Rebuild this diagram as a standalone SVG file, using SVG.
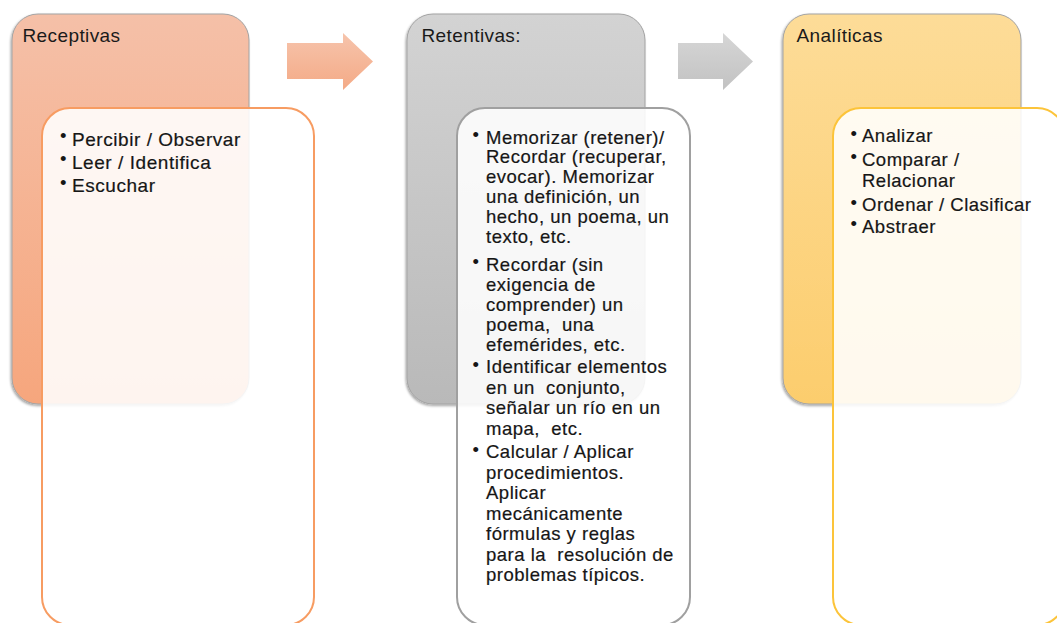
<svg xmlns="http://www.w3.org/2000/svg" width="1057" height="623" viewBox="0 0 1057 623">
<defs>
<linearGradient id="gOrange" x1="0" y1="0" x2="0" y2="1"><stop offset="0" stop-color="#f5c0a8"/><stop offset="1" stop-color="#f6a67d"/></linearGradient>
<linearGradient id="gGray" x1="0" y1="0" x2="0" y2="1"><stop offset="0" stop-color="#d3d3d3"/><stop offset="1" stop-color="#b9b9b9"/></linearGradient>
<linearGradient id="gYellow" x1="0" y1="0" x2="0" y2="1"><stop offset="0" stop-color="#fddc98"/><stop offset="1" stop-color="#fccd6d"/></linearGradient>
<linearGradient id="gArrowO" x1="0" y1="0" x2="0" y2="1"><stop offset="0" stop-color="#f6c4ac"/><stop offset="1" stop-color="#f4aa86"/></linearGradient>
<linearGradient id="gArrowG" x1="0" y1="0" x2="0" y2="1"><stop offset="0" stop-color="#d6d6d6"/><stop offset="1" stop-color="#c2c2c2"/></linearGradient>
<filter id="shadow" x="-10%" y="-10%" width="120%" height="120%"><feDropShadow dx="-1" dy="1.5" stdDeviation="1.2" flood-color="#000" flood-opacity="0.35"/></filter>
</defs>
<style>
.outer { stroke: #a3a3a3; stroke-width: 1; filter: url(#shadow); }
.inner { fill: #ffffff; fill-opacity: 0.88; stroke-width: 2; }
.title { font-family: "Liberation Sans", Arial, sans-serif; font-size: 19px; letter-spacing: 0.4px; fill: #1a1a1a; }
.item { font-family: "Liberation Sans", Arial, sans-serif; font-size: 18.5px; letter-spacing: 0.5px; fill: #161616; stroke: #161616; stroke-width: 0.2px; }
.item1 { font-size: 19px; letter-spacing: 0.55px; }
.bul { font-family: "Liberation Sans", Arial, sans-serif; font-size: 18.5px; fill: #161616; }
.pre { white-space: pre; }
</style>
<rect width="1057" height="623" fill="#ffffff"/>

<g id="connectors">
<polygon points="287,43 343,43 343,33 373,61.5 343,90 343,79 287,79" fill="url(#gArrowO)"/>
<polygon points="678,43 723,43 723,33 753,61.5 723,90 723,79 678,79" fill="url(#gArrowG)"/>
</g>

<g id="node-receptivas">
<rect class="outer" x="12" y="14" width="237" height="390" rx="26" fill="url(#gOrange)"/>
<text class="title" x="22.5" y="41.5">Receptivas</text>
<rect class="inner" x="42" y="108" width="272" height="517" rx="28" stroke="#f79c62"/>
<text class="bul" x="60" y="142">•</text>
<text class="bul" x="60" y="165">•</text>
<text class="bul" x="60" y="188.5">•</text>
<text class="item item1" x="72" y="145.5">Percibir / Observar</text>
<text class="item item1" x="72" y="168.5">Leer / Identifica</text>
<text class="item item1" x="72" y="192">Escuchar</text>
</g>

<g id="node-retentivas">
<rect class="outer" x="407" y="14" width="238" height="390" rx="26" fill="url(#gGray)"/>
<text class="title" x="421.5" y="41.5">Retentivas:</text>
<rect class="inner" x="457" y="108" width="233" height="517" rx="28" stroke="#a0a0a0"/>
<text class="bul" x="472.5" y="141">•</text>
<text class="bul" x="472.5" y="268">•</text>
<text class="bul" x="472.5" y="370.5">•</text>
<text class="bul" x="472.5" y="455.5">•</text>
<text class="item" x="486" y="143.5">Memorizar (retener)/</text>
<text class="item" x="486" y="163.3">Recordar (recuperar,</text>
<text class="item" x="486" y="183.1">evocar). Memorizar</text>
<text class="item" x="486" y="202.9">una definición, un</text>
<text class="item" x="486" y="222.7">hecho, un poema, un</text>
<text class="item" x="486" y="242.5">texto, etc.</text>
<text class="item" x="486" y="270.5">Recordar (sin</text>
<text class="item" x="486" y="290.5">exigencia de</text>
<text class="item" x="486" y="310.8">comprender) un</text>
<text class="item pre" x="486" y="331">poema,  una</text>
<text class="item" x="486" y="351.2">efemérides, etc.</text>
<text class="item" x="486" y="373.2">Identificar elementos</text>
<text class="item pre" x="486" y="393.6">en un  conjunto,</text>
<text class="item" x="486" y="414">señalar un río en un</text>
<text class="item pre" x="486" y="434.5">mapa,  etc.</text>
<text class="item" x="486" y="458">Calcular / Aplicar</text>
<text class="item" x="486" y="478.5">procedimientos.</text>
<text class="item" x="486" y="499">Aplicar</text>
<text class="item" x="486" y="519.5">mecánicamente</text>
<text class="item" x="486" y="540">fórmulas y reglas</text>
<text class="item pre" x="486" y="560.5">para la  resolución de</text>
<text class="item" x="486" y="581">problemas típicos.</text>
</g>

<g id="node-analiticas">
<rect class="outer" x="783" y="14" width="238" height="390" rx="26" fill="url(#gYellow)"/>
<text class="title" x="796.5" y="41.5">Analíticas</text>
<rect class="inner" x="833" y="108" width="232" height="517" rx="28" stroke="#fcc43a"/>
<text class="bul" x="850.5" y="139.5">•</text>
<text class="bul" x="850.5" y="163">•</text>
<text class="bul" x="850.5" y="208.5">•</text>
<text class="bul" x="850.5" y="230">•</text>
<text class="item" x="862" y="142">Analizar</text>
<text class="item" x="862" y="165.5">Comparar /</text>
<text class="item" x="862" y="186.5">Relacionar</text>
<text class="item" x="862" y="211">Ordenar / Clasificar</text>
<text class="item" x="862" y="232.5">Abstraer</text>
</g>
</svg>
